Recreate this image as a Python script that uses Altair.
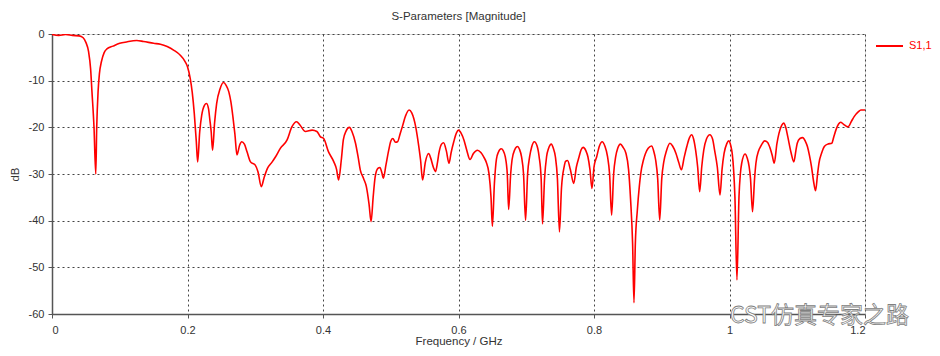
import altair as alt
import pandas as pd

freq = [0.000, 0.010, 0.020, 0.030, 0.040, 0.046, 0.050, 0.054, 0.057, 0.059,
        0.062, 0.0646, 0.066, 0.068, 0.070, 0.073, 0.077, 0.081, 0.090, 0.100,
        0.110, 0.125, 0.135, 0.150, 0.160, 0.170, 0.180, 0.189, 0.196, 0.200,
        0.204, 0.207, 0.210, 0.213, 0.215, 0.218, 0.221, 0.225, 0.228, 0.231,
        0.233, 0.235, 0.237, 0.240, 0.243, 0.248, 0.253, 0.257, 0.261, 0.264,
        0.267, 0.270, 0.273, 0.277, 0.280, 0.284, 0.288, 0.293, 0.300, 0.304,
        0.309, 0.313, 0.318, 0.325, 0.330, 0.337, 0.347, 0.354, 0.361, 0.366,
        0.374, 0.384, 0.391, 0.396, 0.401, 0.408, 0.416, 0.420, 0.423, 0.427,
        0.430, 0.434, 0.439, 0.443, 0.448, 0.452, 0.455, 0.460, 0.464, 0.468,
        0.471, 0.474, 0.477, 0.481, 0.484, 0.487, 0.489, 0.493, 0.497, 0.500,
        0.503, 0.507, 0.510, 0.514, 0.517, 0.522, 0.527, 0.531, 0.534, 0.537,
        0.540, 0.544, 0.547, 0.551, 0.556, 0.559, 0.563, 0.566, 0.569, 0.571,
        0.575, 0.578, 0.582, 0.586, 0.589, 0.593, 0.597, 0.600, 0.604, 0.608,
        0.612, 0.617, 0.622, 0.628, 0.633, 0.637, 0.641, 0.645, 0.648, 0.650,
        0.653, 0.656, 0.659, 0.663, 0.666, 0.669, 0.672, 0.674, 0.677, 0.679,
        0.683, 0.687, 0.690, 0.693, 0.696, 0.699, 0.702, 0.705, 0.708, 0.712,
        0.716, 0.719, 0.722, 0.724, 0.727, 0.730, 0.733, 0.737, 0.740, 0.743,
        0.746, 0.749, 0.752, 0.756, 0.758, 0.761, 0.765, 0.770, 0.774, 0.778,
        0.781, 0.784, 0.788, 0.791, 0.794, 0.797, 0.800, 0.804, 0.808, 0.812,
        0.816, 0.820, 0.823, 0.826, 0.829, 0.832, 0.835, 0.839, 0.843, 0.847,
        0.851, 0.854, 0.857, 0.859, 0.861, 0.864, 0.867, 0.869, 0.873, 0.876,
        0.880, 0.885, 0.888, 0.891, 0.894, 0.897, 0.900, 0.903, 0.907, 0.912,
        0.916, 0.921, 0.925, 0.929, 0.933, 0.937, 0.941, 0.944, 0.947, 0.950,
        0.953, 0.956, 0.959, 0.962, 0.966, 0.971, 0.975, 0.978, 0.982, 0.986,
        0.989, 0.992, 0.996, 0.999, 1.002, 1.004, 1.006, 1.008, 1.011, 1.014,
        1.016, 1.018, 1.023, 1.026, 1.029, 1.031, 1.034, 1.037, 1.039, 1.043,
        1.046, 1.052, 1.056, 1.060, 1.063, 1.066, 1.070, 1.073, 1.077, 1.080,
        1.083, 1.086, 1.091, 1.095, 1.098, 1.100, 1.104, 1.108, 1.112, 1.115,
        1.118, 1.121, 1.124, 1.127, 1.130, 1.132, 1.136, 1.140, 1.145, 1.151,
        1.154, 1.157, 1.161, 1.164, 1.168, 1.175, 1.180, 1.184, 1.190, 1.194,
        1.200]

s11_db = [-0.1, -0.3, -0.1, -0.3, -0.4, -0.8, -1.8, -3.8, -7.5, -12.4,
          -20.0, -30.0, -20.0, -12.4, -8.5, -5.9, -4.0, -3.2, -2.6, -2.0,
          -1.7, -1.4, -1.6, -2.0, -2.2, -2.7, -3.5, -4.5, -5.8, -7.0,
          -9.5, -12.5, -17.0, -23.0, -27.4, -21.0, -17.4, -15.3, -14.9, -16.0,
          -18.4, -21.0, -24.9, -19.0, -14.9, -11.8, -10.4, -11.0, -12.4, -14.5,
          -17.7, -21.5, -25.9, -23.8, -23.1, -23.6, -25.3, -27.4, -28.1, -29.5,
          -32.7, -30.8, -28.8, -27.4, -26.3, -24.5, -22.7, -19.9, -18.8, -19.5,
          -20.9, -20.6, -20.9, -22.0, -22.4, -25.2, -27.4, -29.0, -31.3, -27.0,
          -22.7, -20.8, -20.0, -21.0, -23.4, -26.5, -29.1, -31.0, -32.7, -36.5,
          -40.2, -35.0, -30.6, -28.8, -28.6, -29.8, -30.9, -28.0, -24.9, -23.0,
          -22.4, -23.2, -23.1, -21.3, -19.9, -17.5, -16.3, -16.9, -18.1, -20.0,
          -22.7, -27.0, -31.3, -27.5, -25.6, -26.6, -28.6, -29.5, -27.5, -25.6,
          -23.6, -23.3, -25.0, -27.7, -25.5, -23.1, -21.2, -20.6, -21.3, -22.7,
          -24.8, -26.9, -25.6, -24.9, -25.4, -26.3, -27.5, -29.9, -35.0, -41.2,
          -32.0, -26.8, -25.3, -24.6, -25.0, -26.3, -30.0, -37.6, -30.0, -27.0,
          -24.8, -24.1, -24.7, -26.3, -30.0, -39.9, -30.0, -26.3, -24.2, -23.1,
          -24.0, -26.3, -31.0, -40.7, -31.0, -26.3, -24.5, -23.6, -24.5, -26.3,
          -31.0, -42.4, -33.0, -28.4, -27.3, -27.1, -29.0, -32.0, -28.5, -26.3,
          -24.8, -24.3, -25.0, -26.3, -29.0, -33.1, -28.5, -26.3, -24.0, -23.1,
          -24.0, -26.3, -30.0, -38.8, -30.0, -26.3, -24.5, -23.6, -24.3, -25.5,
          -29.0, -35.5, -45.0, -57.6, -45.0, -37.7, -32.5, -29.9, -27.0, -25.6,
          -24.5, -24.0, -25.0, -27.0, -31.0, -39.9, -31.0, -27.4, -25.0, -23.4,
          -24.0, -25.6, -27.5, -29.1, -26.5, -24.1, -22.2, -21.6, -22.5, -24.9,
          -28.5, -33.8, -28.5, -24.9, -22.5, -21.6, -22.5, -24.9, -28.5, -34.5,
          -29.0, -25.6, -23.5, -22.9, -24.0, -25.6, -29.0, -34.9, -52.7, -34.9,
          -30.0, -27.7, -25.7, -26.5, -28.4, -31.0, -38.1, -31.0, -27.7, -25.0,
          -24.1, -22.9, -23.2, -24.5, -26.0, -27.7, -23.5, -21.3, -19.6, -19.1,
          -20.0, -22.0, -25.5, -27.4, -25.0, -23.4, -22.4, -22.2, -23.0, -24.1,
          -26.0, -28.4, -31.5, -33.6, -30.0, -27.7, -25.5, -24.1, -23.6, -23.4,
          -22.0, -20.6, -19.3, -18.9, -19.3, -19.9, -18.7, -17.7, -16.7, -16.3,
          -16.3]

x_ticks = [0, 0.2, 0.4, 0.6, 0.8, 1.0, 1.2]
y_ticks = [-60, -50, -40, -30, -20, -10, 0]
series_name = "S1,1"
watermark = ["CST仿真专家之路"]

df = pd.DataFrame({"freq": freq, "db": s11_db, "series": series_name})

FONT = "Liberation Sans"
TXT = "#333333"

line = alt.Chart(df).mark_line(strokeWidth=1.6, interpolate="monotone", clip=True).encode(
    x=alt.X("freq:Q",
            scale=alt.Scale(domain=[0, 1.2], nice=False, zero=False),
            axis=alt.Axis(values=x_ticks, format="~g", title="Frequency / GHz",
                          grid=True, gridDash=[2, 3], gridColor="#444444", gridWidth=1,
                          domainColor="#555555", domainWidth=1.5,
                          tickColor="#555555", tickSize=4,
                          labelFont=FONT, labelFontSize=11, labelColor=TXT, labelPadding=6,
                          titleFont=FONT, titleFontSize=11.5, titleFontWeight="normal",
                          titleColor=TXT, titlePadding=0)),
    y=alt.Y("db:Q",
            scale=alt.Scale(domain=[-60, 0], nice=False, zero=False),
            axis=alt.Axis(values=y_ticks, labelExpr="'' + datum.value", title="dB",
                          grid=True, gridDash=[2, 3], gridColor="#444444", gridWidth=1,
                          domainColor="#555555", domainWidth=1.5,
                          tickColor="#555555", tickSize=4,
                          labelFont=FONT, labelFontSize=11, labelColor=TXT, labelPadding=4,
                          titleFont=FONT, titleFontSize=11.5, titleFontWeight="normal",
                          titleColor=TXT, titlePadding=8)),
    color=alt.Color("series:N",
                    scale=alt.Scale(domain=[series_name], range=["#ff0000"]),
                    legend=alt.Legend(title=None, orient="none", legendX=823, legendY=-2.5,
                                      symbolType="stroke", symbolSize=729,
                                      symbolStrokeWidth=2, labelFont=FONT,
                                      labelFontSize=11, labelColor="#ff0000",
                                      labelOffset=5, padding=0)),
)

wm = alt.Chart(pd.DataFrame({"t": watermark})).mark_text(
    font="Noto Sans CJK SC", fontSize=23, align="left", baseline="middle",
    fill="#ffffff", stroke="#808080", strokeWidth=0.8
).encode(x=alt.value(678), y=alt.value(282), text="t:N")

chart = alt.layer(line, wm).properties(
    width=813, height=280,
    title=alt.Title("S-Parameters [Magnitude]", font=FONT, fontSize=11.5,
                    fontWeight="normal", color=TXT, anchor="middle", offset=6),
    autosize=alt.AutoSizeParams(type="none"),
    padding={"left": 44, "top": 26, "right": 67, "bottom": 34},
).configure_view(stroke="#8a8a8a", strokeWidth=2).configure(background="white")

chart.save("out.html", embed_options={"renderer": "svg", "actions": False})
